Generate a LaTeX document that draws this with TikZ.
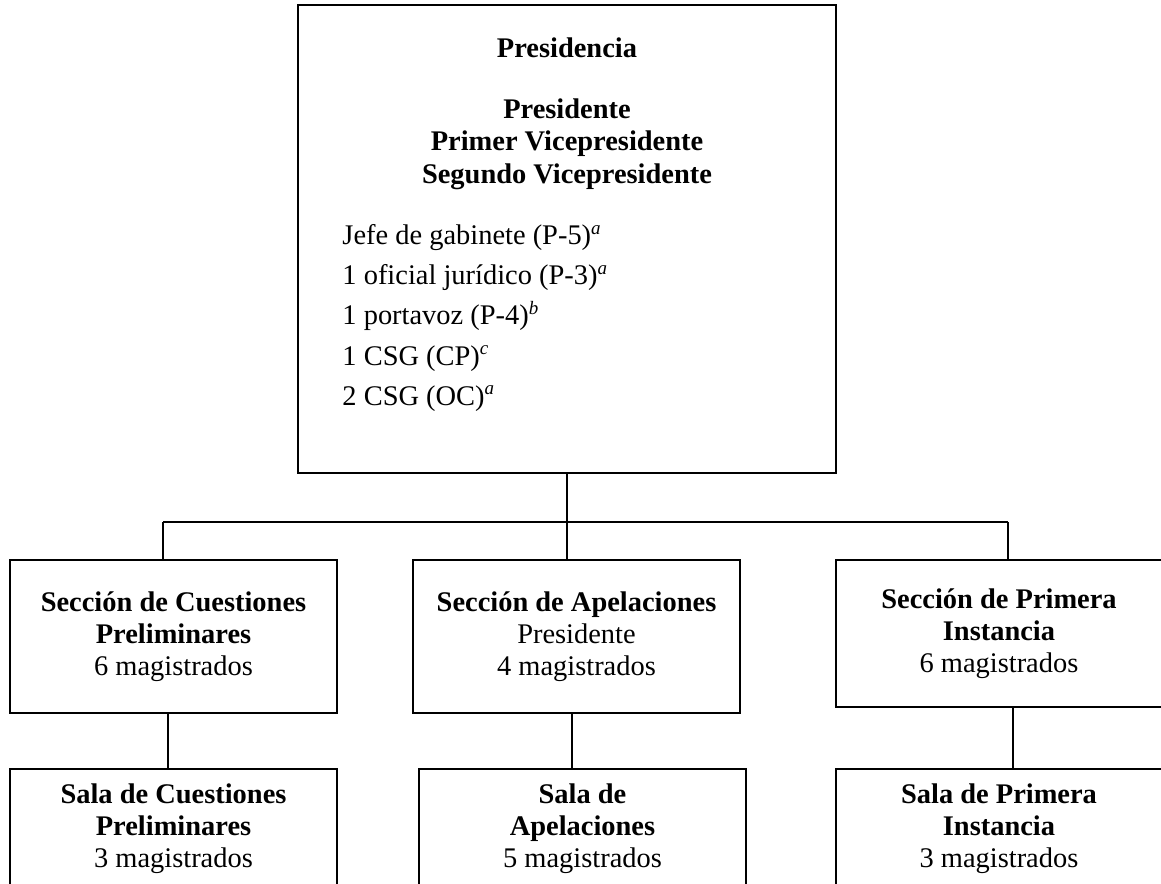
\documentclass[tikz,border=0pt]{standalone}
\usepackage{fontspec}
\setmainfont{Liberation Serif}

\tikzset{
  orgbox/.style={draw, line width=0.8pt, align=center, inner sep=0pt, font=\fontsize{12}{13.5}\selectfont},
  link/.style={line width=0.8pt},
}
\newcommand{\fnmark}[1]{\textsuperscript{\itshape #1}}

\begin{document}
\begin{tikzpicture}[x=0.422pt, y=-0.422pt]
\useasboundingbox (0,0) rectangle (1161,884);
\clip (0,0) rectangle (1161,884);

% presidencia
\node[orgbox, minimum width=227pt, minimum height=197.5pt] (pres) at (567,239) {};
\node[font=\fontsize{12}{13.7}\selectfont\bfseries] (presTitle) at (567,48) {Presidencia};
\node[font=\fontsize{12}{13.7}\selectfont\bfseries, align=center] (presOfficers) at (567,144) {Presidente\\Primer Vicepresidente\\Segundo Vicepresidente};
\node[font=\fontsize{12}{16.9}\selectfont, align=left, anchor=west, inner sep=0pt] (presStaff) at (342,318) {Jefe de gabinete (P-5)\fnmark{a}\\
1 oficial jurídico (P-3)\fnmark{a}\\
1 portavoz (P-4)\fnmark{b}\\
1 CSG (CP)\fnmark{c}\\
2 CSG (OC)\fnmark{a}};


% secciones
\node[orgbox, minimum width=138pt, minimum height=64.6pt] (secCP) at (173.5,636.5) {\textbf{Sección de Cuestiones}\\\textbf{Preliminares}\\6 magistrados};

\node[orgbox, minimum width=138pt, minimum height=64.6pt] (secAp) at (576.5,636.5) {\textbf{Sección de Apelaciones}\\Presidente\\4 magistrados};

\node[orgbox, minimum width=137.6pt, minimum height=62pt] (secTI) at (999,633.5) {\textbf{Sección de Primera}\\\textbf{Instancia}\\6 magistrados};


% salas
\node[orgbox, minimum width=138pt, minimum height=50.6pt] (salaCP) at (173.5,829) {\textbf{Sala de Cuestiones}\\\textbf{Preliminares}\\3 magistrados};

\node[orgbox, minimum width=138pt, minimum height=50.6pt] (salaAp) at (582.5,829) {\textbf{Sala de}\\\textbf{Apelaciones}\\5 magistrados};

\node[orgbox, minimum width=137.6pt, minimum height=50.6pt] (salaTI) at (999,829) {\textbf{Sala de Primera}\\\textbf{Instancia}\\3 magistrados};


\coordinate (bar) at (567,522);
\coordinate (barL) at (163,522);
\coordinate (barR) at (1008,522);
\coordinate (dropCP) at (168,740);
\coordinate (dropAp) at (572,740);
\coordinate (dropTI) at (1013,740);

\draw[link] (pres.south) -- (bar);
\draw[link] (barL) -- (barR);
\draw[link] (barL) -- (barL |- secCP.north);
\draw[link] (bar) -- (bar |- secAp.north);
\draw[link] (barR) -- (barR |- secTI.north);

\draw[link] (dropCP |- secCP.south) -- (dropCP |- salaCP.north);
\draw[link] (dropAp |- secAp.south) -- (dropAp |- salaAp.north);
\draw[link] (dropTI |- secTI.south) -- (dropTI |- salaTI.north);

\end{tikzpicture}
\end{document}
